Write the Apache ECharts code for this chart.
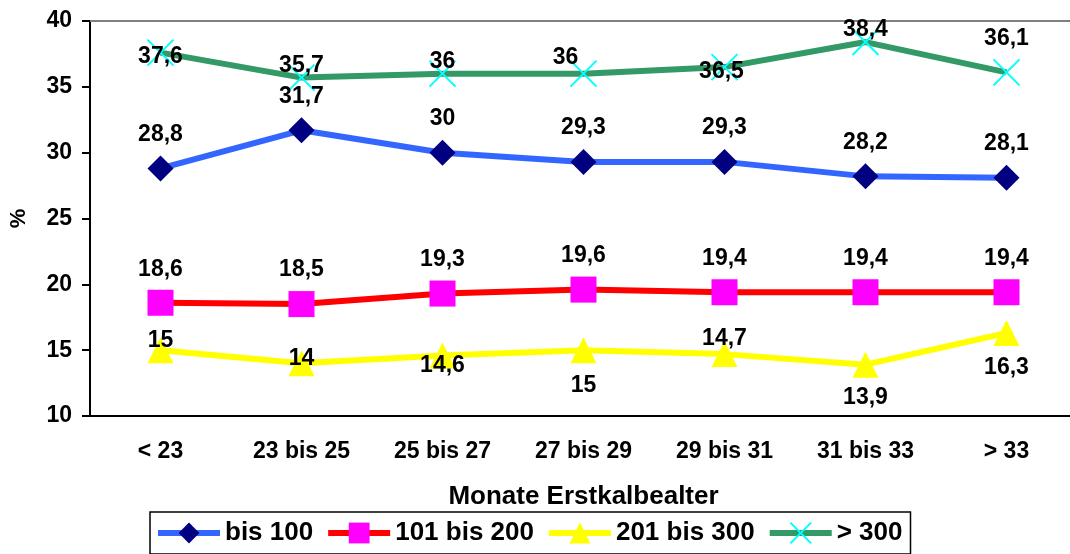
<!DOCTYPE html>
<html>
<head>
<meta charset="utf-8">
<script src="https://cdn.jsdelivr.net/npm/echarts@6/dist/echarts.min.js"></script>
<style>
  html, body { margin: 0; padding: 0; background: #fff; }
  #chart { width: 1070px; height: 554px; }
</style>
</head>
<body>
<div id="chart"></div>
<script>
const categories = ['< 23', '23 bis 25', '25 bis 27', '27 bis 29', '29 bis 31', '31 bis 33', '> 33']
const bis100 = [28.8, 31.7, 30, 29.3, 29.3, 28.2, 28.1]
const bis200 = [18.6, 18.5, 19.3, 19.6, 19.4, 19.4, 19.4]
const bis300 = [15, 14, 14.6, 15, 14.7, 13.9, 16.3]
const over300 = [37.6, 35.7, 36, 36, 36.5, 38.4, 36.1]

// label placement (offset from the marker), hand-tuned like the excel original
const offBlue = [[0, -34], [0, -34], [0, -34], [0, -34], [0, -34], [0, -34], [0, -34]]
const offRed = [[0, -33], [0, -34], [0, -34], [0, -34], [0, -34], [0, -34], [0, -34]]
const offYellow = [[0, -10], [0, -5], [0, 10], [0, 35], [0, -15], [0, 33], [0, 35]]
const offGreen = [[0, 4], [0, -12], [0, -12], [-18, -16], [-3, 5], [0, -12], [0, -34]]

const fmt = v => String(v).replace('.', ',')
const withLabels = (vals, offs) => vals.map((v, i) => ({
  value: v,
  label: { offset: offs[i] }
}))

const labelStyle = {
  show: true,
  position: 'inside',
  color: '#000',
  fontWeight: 'bold',
  fontSize: 23,
  formatter: p => fmt(p.value)
}

const chart = echarts.init(document.getElementById('chart'))
chart.setOption({
  animation: false,
  textStyle: { fontFamily: 'Liberation Sans, Arial, sans-serif' },
  grid: { left: 90, top: 21, width: 987, height: 395, outerBoundsMode: 'none', containLabel: false },
  legend: {
    left: 150,
    top: 512,
    padding: [8, 8, 8, 5],
    borderColor: '#000',
    borderWidth: 1.5,
    itemWidth: 62,
    itemHeight: 26,
    itemGap: 12,
    lineStyle: { width: 6 },
    textStyle: { fontSize: 26, fontWeight: 'bold', color: '#000' },
    data: ['bis 100', '101 bis 200', '201 bis 300', '> 300']
  },
  xAxis: [
    {
      type: 'category',
      data: categories,
      boundaryGap: true,
      name: 'Monate Erstkalbealter',
      nameLocation: 'middle',
      nameGap: 68,
      nameTextStyle: { fontSize: 26, fontWeight: 'bold', color: '#000' },
      axisLine: { lineStyle: { color: '#000', width: 2 } },
      axisTick: { length: 7, lineStyle: { color: '#000', width: 2 } },
      axisLabel: { margin: 24, fontSize: 23, fontWeight: 'bold', color: '#000' }
    },
    {
      type: 'category',
      position: 'top',
      data: categories,
      axisLine: { lineStyle: { color: '#808080', width: 2 } },
      axisTick: { show: false },
      axisLabel: { show: false }
    }
  ],
  yAxis: {
    type: 'value',
    min: 10,
    max: 40,
    interval: 5,
    name: '%',
    nameLocation: 'middle',
    nameGap: 60,
    nameTextStyle: { fontSize: 22, fontWeight: 'bold', color: '#000' },
    axisLine: { show: true, lineStyle: { color: '#000', width: 2 } },
    axisTick: { show: true, length: 8, lineStyle: { color: '#000', width: 2 } },
    axisLabel: { margin: 18, fontSize: 23, fontWeight: 'bold', color: '#000' },
    splitLine: { show: false }
  },
  series: [
    {
      name: 'bis 100',
      type: 'line',
      data: withLabels(bis100, offBlue),
      symbol: 'diamond',
      symbolSize: 26,
      lineStyle: { color: '#3366FF', width: 6 },
      itemStyle: { color: '#000080' },
      label: labelStyle
    },
    {
      name: '101 bis 200',
      type: 'line',
      data: withLabels(bis200, offRed),
      symbol: 'rect',
      symbolSize: 26,
      lineStyle: { color: '#FF0000', width: 6 },
      itemStyle: { color: '#FF00FF' },
      label: labelStyle
    },
    {
      name: '201 bis 300',
      type: 'line',
      data: withLabels(bis300, offYellow),
      symbol: 'triangle',
      symbolSize: 26,
      lineStyle: { color: '#FFFF00', width: 6 },
      itemStyle: { color: '#FFFF00' },
      label: labelStyle
    },
    {
      name: '> 300',
      type: 'line',
      data: withLabels(over300, offGreen),
      symbol: 'path://M0,0L10,10M10,0L0,10',
      symbolSize: 26,
      lineStyle: { color: '#339966', width: 6 },
      itemStyle: { color: 'rgba(0,0,0,0)', borderColor: '#00FFFF', borderWidth: 2 },
      label: labelStyle
    }
  ]
})
</script>
</body>
</html>
